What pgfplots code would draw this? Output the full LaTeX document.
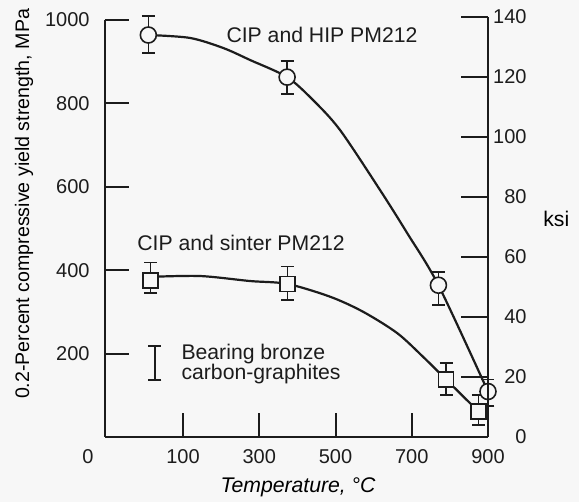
\documentclass[border=0pt]{standalone}
\usepackage{pgfplots}
\pgfplotsset{compat=1.18}
\usepackage{fontspec}
\setmainfont{Liberation Sans}
\definecolor{ink}{RGB}{28,28,28}
\definecolor{paper}{RGB}{247,247,247}

\pgfplotstableread{
T    s    ep  em
9    964  46  43
373  863  39  40
770  364  32  47
900  109  29  35
}\hiptable
\pgfplotstableread{
T    s    ep  em
15   375  43  30
374  367  42  38
790  138  39  37
875  61   40  32
}\sintertable

\begin{document}
\begin{tikzpicture}
\path[fill=paper, use as bounding box] (-52.5pt,-32.5pt) rectangle (237pt,218.5pt);
\pgfplotsset{
  every axis/.append style={
    scale only axis, width=191.5pt,
    xmin=-104.7, xmax=900,
    font=\fontsize{10.6}{12}\selectfont,
    /pgf/number format/assume math mode=true,
    /pgf/number format/1000 sep={},
    tick align=inside,
    axis line style={line width=1pt, draw=ink, -},
    every tick/.style={line width=1pt, draw=ink},
    tick label style={font=\fontsize{10}{12}\selectfont, text=ink},
    label style={text=ink},
  },
  scatter bars/.style={
    error bars/.cd, y dir=both, y explicit,
    error bar style={line width=0.75pt, draw=ink},
    error mark=-,
    error mark options={rotate=90, line width=0.75pt, mark size=3.25pt, draw=ink},
  },
}
% MPa scale, bottom and left axis lines
\begin{axis}[
  height=208.5pt, ymin=0, ymax=1000,
  axis x line*=bottom, axis y line*=left,
  clip=false,
  xtick={100,300,500,700,900},
  ytick={200,400,600,800,1000},
  major tick length=12pt,
  yticklabel style={anchor=east, inner xsep=0pt, xshift=-7.5pt},
  xticklabel style={anchor=north, inner ysep=0pt, yshift=-6pt},
  extra x ticks={-104.7}, extra x tick labels={0},
  extra x tick style={major tick length=0pt, xticklabel style={xshift=-8.5pt}},
  xlabel={\itshape Temperature, °C},
  every axis x label/.style={at={(rel axis cs:0.504,0)}, anchor=base, yshift=-28pt, font=\fontsize{10.6}{12}\selectfont},
  ylabel={0.2-Percent compressive yield strength, MPa},
  every axis y label/.style={at={(rel axis cs:0,0.5588)}, xshift=-40.5pt, rotate=90, anchor=center, font=\fontsize{9.8}{12}\selectfont},
]
% fitted curves
\addplot[ink, line width=1.1pt, smooth] coordinates {
  (9,964) (118,957) (205,933) (276,904) (373,863) (441,808)
  (512,736) (617,592) (688,489) (770,364) (900,109)
};
\addplot[ink, line width=1.1pt, smooth] coordinates {
  (15,384) (145,386) (276,374) (374,367) (487,336) (573,300)
  (662,249) (730,192) (790,138) (875,61)
};
% measured values with scatter
\addplot[only marks, mark=*, mark size=4pt,
  mark options={fill=paper, draw=ink, line width=0.8pt}, scatter bars]
  table[x=T, y=s, y error plus=ep, y error minus=em] {\hiptable};
\addplot[only marks, mark=square*, mark size=3.75pt,
  mark options={fill=paper, draw=ink, line width=0.8pt}, scatter bars]
  table[x=T, y=s, y error plus=ep, y error minus=em] {\sintertable};
% range for bearing bronze and carbon-graphites
\addplot[draw=none, mark=none, scatter bars]
  coordinates {(26,177.5) +- (0,40.5)};
\node[anchor=base west, inner sep=0pt, text=ink] at (axis cs:213,947) {CIP and HIP PM212};
\node[anchor=base west, inner sep=0pt, text=ink] at (axis cs:-21,448) {CIP and sinter PM212};
\node[anchor=base west, inner sep=0pt, text=ink] at (axis cs:95,187) {Bearing bronze};
\node[anchor=base west, inner sep=0pt, text=ink] at (axis cs:95,137) {carbon-graphites};
\end{axis}
% ksi scale on the right
\begin{axis}[
  height=210pt, ymin=0, ymax=140,
  axis x line=none, axis y line*=right,
  ytick={0,20,...,140},
  major tick length=13.5pt,
  yticklabel style={anchor=east, inner xsep=0pt, xshift=19.5pt},
  ylabel={ksi},
  every axis y label/.style={at={(rel axis cs:1,0.5)}, anchor=base west, inner sep=0pt, xshift=27.5pt, font=\fontsize{10.6}{12}\selectfont},
]
\end{axis}
\end{tikzpicture}
\end{document}
